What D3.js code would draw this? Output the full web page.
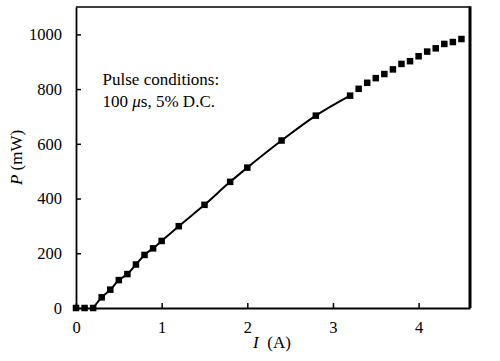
<!DOCTYPE html>
<html>
<head>
<meta charset="utf-8">
<script src="https://cdn.jsdelivr.net/npm/d3@7"></script>
<style>
  body { margin: 0; background: #fff; }
  text { font-family: "Liberation Serif", "DejaVu Serif", serif; fill: #000; }
</style>
</head>
<body>
<div id="chart"></div>
<script>
var
width = 500,
height = 361,
margin = {top: 7, right: 30, bottom: 53, left: 76}
;

// measured points: current (A) and power (mW)
var current = [0, 0.1, 0.2, 0.3, 0.4, 0.5, 0.6, 0.7, 0.8, 0.9, 1.0, 1.2, 1.5, 1.8, 2.0, 2.4, 2.8, 3.2,
               3.3, 3.4, 3.5, 3.6, 3.7, 3.8, 3.9, 4.0, 4.1, 4.2, 4.3, 4.4, 4.5];
var power = [0, 0, 0, 39, 67, 102, 124, 159, 194, 218, 245, 299, 377, 461, 513, 612, 703, 776,
             801, 823, 840, 855, 872, 892, 902, 920, 937, 949, 965, 972, 983];

// fitted line covers the points from 0.2 A to 3.2 A
var fitStart = 2, fitEnd = 17;

var xTicks = [0, 1, 2, 3, 4];
var yTicks = [0, 200, 400, 600, 800, 1000];

var note1 = 'Pulse conditions:';

var pts = current.map(function(c, i){ return {x: c, y: power[i]}; });

var iw = width - margin.left - margin.right,
    ih = height - margin.top - margin.bottom;

var x = d3.scaleLinear().domain([0, 4.6]).range([0, iw]);
var y = d3.scaleLinear().domain([0, 1100]).range([ih, 0]);

var svg = d3.select('#chart').append('svg').attr('width', width).attr('height', height);
var g = svg.append('g').attr('transform', 'translate(' + margin.left + ',' + margin.top + ')');

// frame: top + right
g.append('line').attr('x1', 0).attr('x2', iw).attr('y1', 0).attr('y2', 0)
  .attr('stroke', '#000').attr('stroke-width', 1.5);
g.append('line').attr('x1', iw).attr('x2', iw).attr('y1', -0.75).attr('y2', ih)
  .attr('stroke', '#000').attr('stroke-width', 3);

var xAxis = g.append('g').attr('transform', 'translate(0,' + ih + ')')
  .call(d3.axisBottom(x).tickValues(xTicks).tickSizeInner(-5).tickSizeOuter(0).tickPadding(13)
    .tickFormat(d3.format('d')));
var yAxis = g.append('g')
  .call(d3.axisLeft(y).tickValues(yTicks).tickSizeInner(-5).tickSizeOuter(0).tickPadding(14)
    .tickFormat(d3.format('d')));

[xAxis, yAxis].forEach(function(a){
  a.select('.domain').attr('stroke', '#000').attr('stroke-width', 1.8);
  a.selectAll('.tick line').attr('stroke', '#000').attr('stroke-width', 1.5);
  a.selectAll('.tick text').attr('font-size', 16.5).attr('font-family', '"Liberation Serif", serif');
});

// fitted curve
var line = d3.line().x(function(d){ return x(d.x); }).y(function(d){ return y(d.y); })
  .curve(d3.curveMonotoneX);
g.append('path').datum(pts.slice(fitStart, fitEnd + 1))
  .attr('d', line).attr('fill', 'none').attr('stroke', '#000').attr('stroke-width', 2);

var s = 6.5;
g.selectAll('rect.pt').data(pts).enter().append('rect')
  .attr('class', 'pt')
  .attr('x', function(d){ return x(d.x) - s/2; })
  .attr('y', function(d){ return y(d.y) - s/2; })
  .attr('width', s).attr('height', s)
  .attr('fill', '#000');

// annotation
g.append('text').attr('x', x(0.31)).attr('y', y(814)).attr('font-size', 17)
  .text(note1);
g.append('text').attr('x', x(0.31)).attr('y', y(733)).attr('font-size', 17)
  .html('100 <tspan font-style="italic">\u03bc</tspan>s, 5% D.C.');

// axis titles
svg.append('text')
  .attr('x', margin.left + iw/2 - 1).attr('y', 348)
  .attr('text-anchor', 'middle').attr('font-size', 17)
  .html('<tspan font-style="italic">I</tspan>  (A)').attr('xml:space', 'preserve')
  .style('white-space', 'pre');

svg.append('text')
  .attr('transform', 'translate(22,' + (margin.top + ih/2) + ') rotate(-90)')
  .attr('text-anchor', 'middle').attr('font-size', 17)
  .html('<tspan font-style="italic">P</tspan> (mW)');
</script>
</body>
</html>
